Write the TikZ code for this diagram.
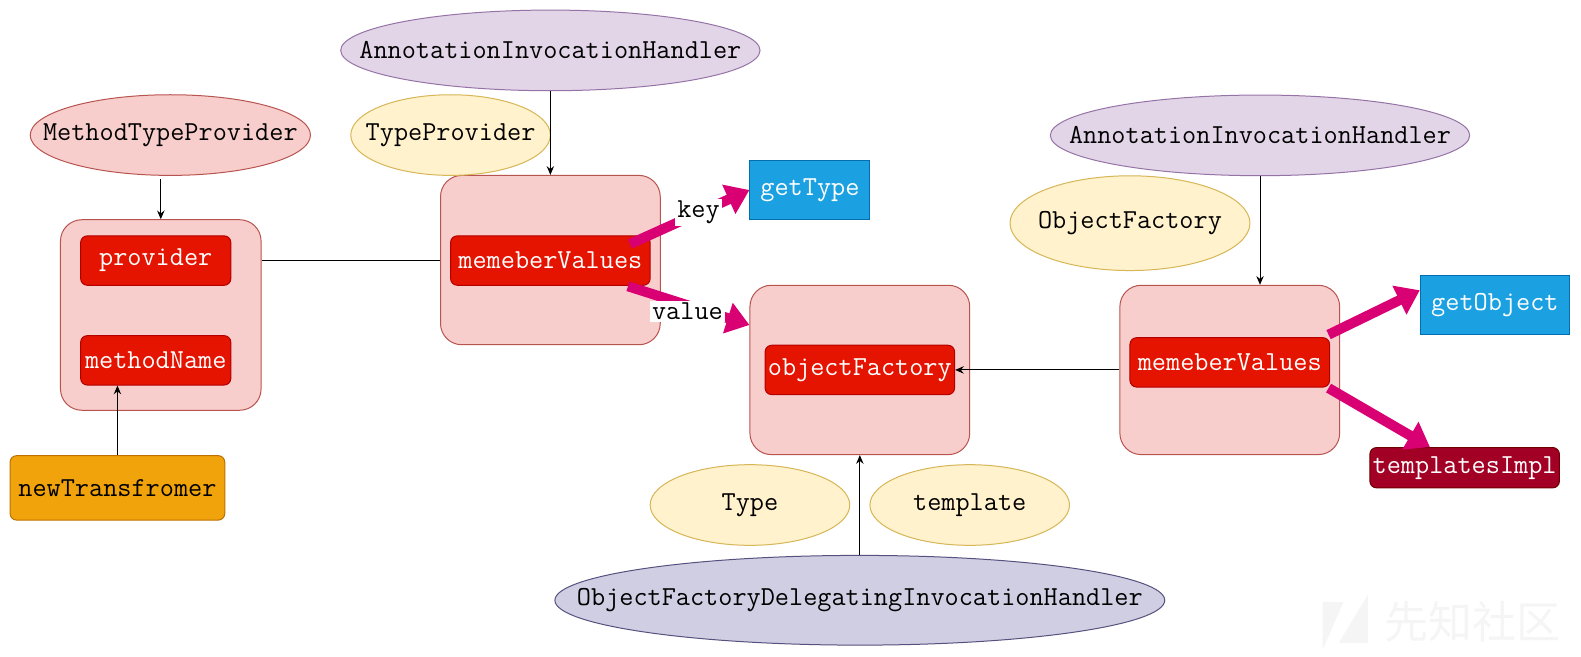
\documentclass[tikz,border=0pt]{standalone}
\usepackage{fontspec}
\newfontfamily\cjkf{Noto Sans CJK SC}
\usetikzlibrary{shapes.geometric,arrows.meta}
\definecolor{purF}{HTML}{E1D5E7}\definecolor{purS}{HTML}{9673A6}
\definecolor{redF}{HTML}{F8CECC}\definecolor{redS}{HTML}{B85450}
\definecolor{yelF}{HTML}{FFF2CC}\definecolor{yelS}{HTML}{D6B656}
\definecolor{boxF}{HTML}{E51400}\definecolor{boxS}{HTML}{B20000}
\definecolor{bluF}{HTML}{1BA1E2}\definecolor{bluS}{HTML}{006EAF}
\definecolor{oraF}{HTML}{F0A30A}\definecolor{oraS}{HTML}{BD7000}
\definecolor{drkF}{HTML}{A20025}\definecolor{drkS}{HTML}{6F0000}
\definecolor{ofdF}{HTML}{D0CEE2}\definecolor{ofdS}{HTML}{56517E}
\definecolor{mag}{HTML}{D80073}
\begin{document}
\begin{tikzpicture}[x=0.756pt,y=-0.756pt,
  every node/.style={font=\ttfamily\fontsize{20.6}{22}\selectfont, inner sep=0pt, line width=0.75pt},
  sz/.style 2 args={minimum width=#1*0.756pt, minimum height=#2*0.756pt},
  ell/.style 2 args={ellipse, draw=#2, fill=#1},
  cont/.style={rectangle, rounded corners=16pt, draw=redS, fill=redF},
  redbox/.style={rectangle, rounded corners=5pt, draw=boxS, fill=boxF, text=white},
  bluebox/.style={rectangle, draw=bluS, fill=bluF, text=white},
  conn/.style={line width=0.75pt, -{Stealth[length=6.5pt,width=5.5pt]}},
  flex/.style={line width=7.5pt, draw=mag, -{Triangle[length=17pt,width=23pt]}},
  lbl/.style={fill=white, inner sep=1.5pt}
]
\useasboundingbox (0,0) rectangle (1568.45,650.8);
% watermark
\fill[black!4] (1312,597) -- (1333,597) -- (1312,645) -- cycle;
\fill[black!4] (1357,590) -- (1357,638) -- (1328,638) -- cycle;
\node[text=black!4, font=\cjkf\fontsize{33}{36}\selectfont] (wm) at (1461,617) {先知社区};
% containers
\node[cont, sz={199}{189}] (leftc) at (159.5,312.5) {};
\node[cont, sz={218}{168}] (midc) at (546,258) {};
\node[cont, sz={218}{168}] (ofc) at (853,367) {};
\node[cont, sz={218}{168}] (rc) at (1220,367) {};
% inner boxes
\node[redbox, sz={149}{49}] (prov) at (154.5,258.5) {provider};
\node[redbox, sz={149}{49}] (mn) at (154.5,357.5) {methodName};
\node[redbox, sz={198}{49}] (memL) at (546,258.5) {memeberValues};
\node[redbox, sz={188}{49}] (of) at (853,367) {objectFactory};
\node[redbox, sz={198}{49}] (memR) at (1220,359.5) {memeberValues};
\node[rectangle, rounded corners=5pt, draw=oraS, fill=oraF, sz={213}{64}] (nt) at (116.5,484) {newTransfromer};
\node[bluebox, sz={119}{59}] (gt) at (803.5,188.5) {getType};
\node[bluebox, sz={148}{59}] (go) at (1483,302.5) {getObject};
\node[rectangle, rounded corners=5pt, draw=drkS, fill=drkF, text=white, sz={188}{40}] (ti) at (1453,464) {templatesImpl};
% ellipses
\node[ell={purF}{purS}, sz={416}{80}] (aih1) at (546,50) {};
\node (aih1t) at (aih1) {AnnotationInvocationHandler};
\node[ell={redF}{redS}, sz={278}{80}] (mtp) at (169,134) {};
\node (mtpt) at (mtp) {MethodTypeProvider};
\node[ell={yelF}{yelS}, sz={198}{80}] (tp) at (447,134) {};
\node (tpt) at (tp) {TypeProvider};
\node[ell={purF}{purS}, sz={416}{80}] (aih2) at (1250,134.3) {};
\node (aih2t) at (aih2) {AnnotationInvocationHandler};
\node[ell={yelF}{yelS}, sz={238}{94}] (ofe) at (1121,221.4) {};
\node (ofet) at (ofe) {ObjectFactory};
\node[ell={yelF}{yelS}, sz={198}{80}] (ty) at (744,501) {};
\node (tyt) at (ty) {Type};
\node[ell={yelF}{yelS}, sz={198}{80}] (tm) at (962,501) {};
\node (tmt) at (tm) {template};
\node[ell={ofdF}{ofdS}, sz={605}{89}] (ofd) at (853,595.5) {};
\node (ofdt) at (ofd) {ObjectFactoryDelegatingInvocationHandler};
% thin connectors
\draw[conn] ([yshift=-2.5pt]mtp.south -| leftc.north) -- (leftc.north);
\draw[conn] (aih1.south) -- (midc.north);
\draw[conn] (nt.north) -- (nt.north |- mn.south);
\draw[line width=0.75pt] (leftc.east |- prov) -- (midc.west |- prov);
\draw[conn] (aih2.south) -- (aih2.south |- rc.north);
\draw[conn] (rc.west) -- (of.east);
\draw[conn] (ofd.north) -- (ofc.south);
% flex arrows
\coordinate (k1) at (625,242);
\coordinate (v1) at (623,284);
\coordinate (g1) at (1318,332);
\coordinate (t1) at (1318,385);
\draw[flex] (k1) -- (gt.west);
\draw[flex] (v1) -- ([yshift=33.7pt]ofc.west);
\draw[flex] (g1) -- ([yshift=11pt]go.west);
\draw[flex] (t1) -- ([xshift=-26pt]ti.north);
\node[lbl] (kl) at (693,211) {key};
\node[lbl] (vl) at (682,309) {value};
\end{tikzpicture}
\end{document}
